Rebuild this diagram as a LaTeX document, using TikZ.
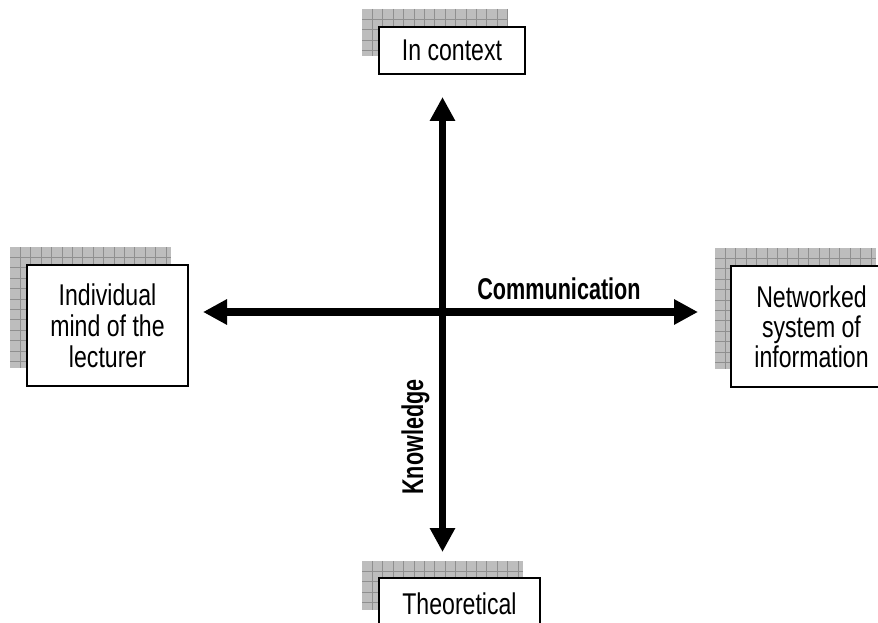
\documentclass[tikz,border=0pt]{standalone}
\usepackage{fontspec}
\setmainfont[FakeStretch=0.77]{Liberation Sans}
\newfontfamily\labelfont[FakeStretch=0.72]{Liberation Sans}
\usetikzlibrary{arrows.meta}
\definecolor{shadowgray}{gray}{0.74}
\definecolor{gridgray}{gray}{0.56}
\tikzset{
  boxnode/.style={draw=black, line width=2pt, fill=white, rectangle, inner sep=0pt,
    anchor=north west, align=center, font=\fontsize{30pt}{30pt}\selectfont},
  axisline/.style={line width=7.5pt, {Triangle[length=24pt,width=24pt]}-{Triangle[length=24pt,width=24pt]}},
  axislabel/.style={font=\labelfont\bfseries\fontsize{30pt}{30pt}\selectfont, inner sep=0pt},
  shadowgrid/.style={draw=gridgray, line width=0.8pt}
}
\newcommand\myshadow[4]{%
  \begin{scope}
    \clip (#1,#2) rectangle (#3,#4);
    \fill[shadowgray] (#1,#2) rectangle (#3,#4);
    \foreach \i in {1,...,16} {\draw[shadowgrid] ({#1+\i*10.4},#2) -- ({#1+\i*10.4},#4);}
    \foreach \j in {1,...,13} {\draw[shadowgrid] (#1,{#2+\j*10.4}) -- (#3,{#2+\j*10.4});}
  \end{scope}}
\begin{document}
\begin{tikzpicture}[x=1pt,y=-1pt]
\clip (0,0) rectangle (878,623);
\fill[white] (0,0) rectangle (878,623);
% shadows
\myshadow{362}{9}{508}{56}
\myshadow{10}{247}{171}{368}
\myshadow{715}{248}{876}{369}
\myshadow{362}{561}{523}{610}
% boxes
\node[boxnode, minimum width=146pt, minimum height=47pt] (ctx) at (378,26) {In context};
\node[boxnode, minimum width=161pt, minimum height=121pt] (ind) at (26,264) {Individual\\[1pt]mind of the\\[1pt]lecturer};
\node[boxnode, minimum width=161pt, minimum height=121pt] (net) at (730,265) {Networked\\system of\\information};
\node[boxnode, minimum width=161pt, minimum height=52pt] (theo) at (378,577) {Theoretical};
% axes
\coordinate (c) at (442.5,312);
\coordinate (up) at (442.5,97);
\coordinate (down) at (442.5,552);
\coordinate (lt) at (203,312);
\coordinate (rt) at (698,312);
\draw[axisline] (lt) -- (rt);
\draw[axisline] (up) -- (down);
% labels
\node[axislabel, anchor=base] (comm) at (559,299) {Communication};
\node[axislabel, anchor=base, rotate=90] (know) at (423,437) {Knowledge};
\end{tikzpicture}
\end{document}
